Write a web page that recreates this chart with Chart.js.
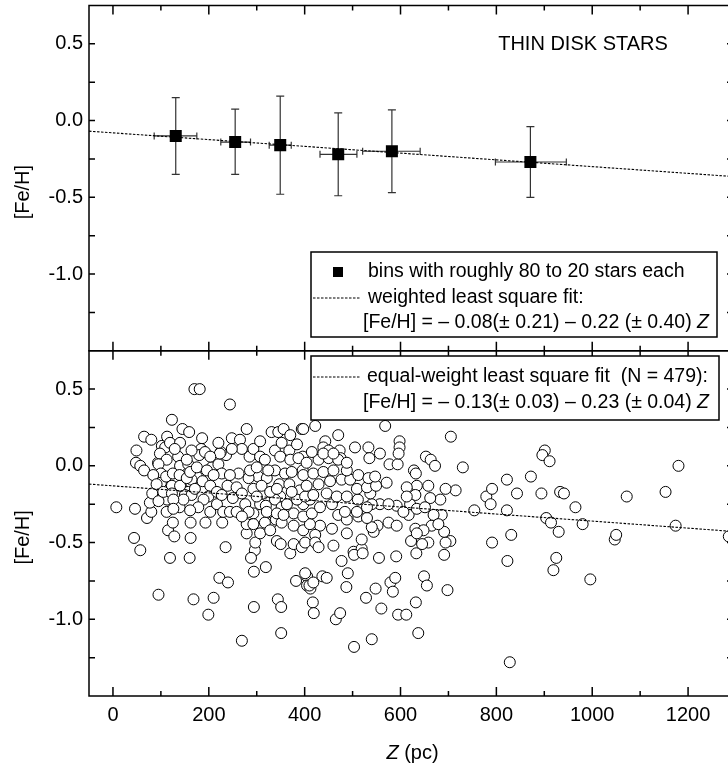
<!DOCTYPE html>
<html lang="en">
<head>
    <meta charset="UTF-8">
    <title>Thin disk stars - [Fe/H] vs Z</title>
    <script src="https://cdn.jsdelivr.net/npm/chart.js"></script>
    <style>
        html, body { margin: 0; padding: 0; background: #fff; overflow: hidden; }
        #grafico { display: block; }
    </style>
</head>
<body>
    <canvas id="grafico" width="740" height="767"></canvas>

    <script>
        // Axes
        const zRange = [-50, 1300];
        const fehRange = [-1.5, 0.75];
        const zTicks = [0, 200, 400, 600, 800, 1000, 1200];
        const zMinorTicks = [100, 300, 500, 700, 900, 1100];
        const fehTicks = [-1.0, -0.5, 0.0, 0.5];
        const fehMinorTicks = [-1.25, -0.75, -0.25, 0.25];

        // Top panel: bins with roughly 80 to 20 stars each
        const binZ = [131, 255, 349, 470, 582, 871];
        const binFeH = [-0.10, -0.14, -0.16, -0.22, -0.20, -0.27];
        const binZLow = [86, 225, 326, 432, 521, 798];
        const binZHigh = [175, 287, 372, 509, 641, 946];
        const binFeHLow = [-0.35, -0.35, -0.48, -0.49, -0.47, -0.50];
        const binFeHHigh = [0.15, 0.075, 0.16, 0.05, 0.07, -0.04];

        // Fit lines (end points at the frame edges)
        const fitZ = [-50, 1300];
        const weightedFit = [-0.069, -0.366];
        const equalFit = [-0.119, -0.429];

        // Bottom panel: individual stars
        const starZ = [
            7,46,44,57,48,49,57,65,65,80,
            71,80,77,82,95,115,125,128,119,123,
            94,102,109,145,159,160,162,162,168,170,
            181,186,184,180,199,210,193,222,240,235,
            244,228,269,279,294,294,319,296,288,344,
            351,351,370,377,382,405,405,412,417,419,
            437,446,465,474,477,487,490,503,528,540,
            548,560,555,579,584,589,591,595,612,632,
            637,649,655,633,691,698,704,694,691,705,
            730,715,694,754,779,788,791,791,822,822,
            831,823,828,843,872,894,901,896,911,904,
            914,930,925,919,933,941,965,980,996,1047,
            1050,1072,1153,1174,1180,1285,
            98,112,95,100,100,111,123,113,119,136,
            140,125,139,143,134,139,113,95,157,175,
            164,157,150,164,171,187,206,220,227,203,
            199,203,217,230,236,248,225,239,250,244,
            262,265,269,285,293,307,307,279,297,279,
            293,276,293,307,303,314,321,338,331,345,
            356,370,352,368,349,370,338,359,347,368,
            349,338,319,331,340,352,317,342,350,377,
            394,396,396,390,397,397,394,244,258,269,
            283,300,310,328,342,352,363,377,384,373,
            321,283,258,269,293,307,328,342,356,84,
            91,105,123,140,154,161,175,196,210,217,
            227,189,178,161,147,126,223,220,248,286,
            300,317,324,384,387,373,192,203,164,140,
            129,154,112,126,
            568,470,443,439,450,473,475,505,533,535,
            557,577,594,598,598,596,628,632,653,663,
            672,658,634,631,620,617,631,683,686,665,
            658,622,592,575,592,557,575,540,552,544,
            540,502,519,512,530,519,488,460,457,432,
            422,401,422,429,411,397,415,470,488,509,
            511,530,537,484,457,432,411,401,418,446,
            467,488,509,530,549,571,404,429,453,477,
            495,397,418,439,460,488,512,533,547,404,
            429,450,470,488,415,439,460,613,613,606,
            634,662,651,669,648,634,397,422,401,410,
            418,503,521,679,645
        ];
        const starFeH = [
            -0.27,-0.28,-0.47,-0.55,0.02,0.10,0.00,-0.03,0.19,0.17,
            -0.34,-0.30,-0.24,-0.18,-0.84,-0.42,-0.37,-0.46,-0.60,0.30,
            0.02,0.13,0.12,0.24,0.22,-0.60,-0.37,-0.47,-0.87,0.50,
            0.50,0.18,0.11,0.07,-0.97,-0.86,-0.37,-0.73,-0.76,-0.53,
            0.40,-0.37,-1.14,0.24,-0.69,-0.92,-0.66,-0.55,-0.60,-0.87,
            -0.92,-1.09,-0.57,-0.51,-0.75,-0.72,-0.78,-0.80,-0.89,-0.96,
            -0.72,-0.73,-1.00,-0.96,-0.62,-0.79,-0.70,-1.18,-0.86,-1.13,
            -0.80,-0.93,-0.60,-0.76,-0.82,-0.73,-0.59,-0.97,-0.97,-0.89,
            -1.09,-0.72,-0.78,-0.57,-0.58,-0.81,-0.49,-0.50,-0.43,0.19,
            -0.01,-0.16,-0.15,-0.29,-0.20,-0.25,-0.15,-0.50,-0.09,-0.29,
            -0.45,-0.62,-1.28,-0.18,-0.07,-0.18,0.10,0.07,0.03,-0.34,
            -0.37,-0.43,-0.60,-0.68,-0.17,-0.18,-0.27,-0.38,-0.74,-0.48,
            -0.45,-0.20,-0.17,-0.39,0.00,-0.46,
            0.08,0.04,0.01,-0.05,-0.11,-0.07,-0.13,0.19,0.15,0.06,
            0.00,-0.05,-0.06,-0.14,-0.19,-0.27,-0.22,-0.23,0.01,-0.07,
            -0.09,-0.17,-0.19,-0.19,-0.15,-0.10,-0.01,0.01,-0.05,-0.13,
            -0.20,-0.30,-0.25,-0.30,0.07,0.18,0.09,-0.13,-0.21,-0.30,
            -0.05,0.17,0.11,0.06,0.11,0.16,0.06,-0.44,-0.50,-0.38,
            -0.31,-0.25,-0.15,-0.25,-0.07,-0.18,-0.08,0.10,0.22,0.22,
            0.24,0.20,0.15,0.10,0.06,0.04,-0.03,-0.05,-0.12,-0.12,
            -0.20,-0.22,-0.26,-0.37,-0.35,-0.37,-0.37,-0.49,-0.51,-0.39,
            0.24,0.06,-0.03,-0.16,-0.25,-0.42,-0.53,-0.06,-0.14,-0.18,
            -0.08,-0.20,-0.13,-0.17,-0.15,-0.27,-0.25,-0.31,-0.22,-0.17,
            -0.30,-0.30,-0.30,-0.33,-0.38,-0.44,-0.42,-0.31,-0.32,-0.06,
            -0.12,-0.17,-0.18,-0.13,-0.08,-0.04,-0.01,-0.03,-0.06,-0.17,
            -0.19,-0.22,-0.27,-0.29,-0.22,-0.22,0.08,0.15,0.11,-0.03,
            -0.01,0.04,-0.03,0.14,0.05,-0.04,0.09,0.06,0.10,0.15,
            0.11,0.04,-0.30,-0.28,
            0.26,0.20,0.16,0.12,0.10,0.10,0.05,0.12,0.12,0.05,
            0.08,0.01,0.01,0.16,0.12,0.08,-0.03,-0.05,0.06,0.04,
            0.00,-0.13,-0.13,-0.19,-0.25,-0.32,-0.41,-0.22,-0.32,-0.39,
            -0.50,-0.49,-0.26,-0.37,-0.39,-0.25,-0.25,-0.25,-0.39,-0.43,
            -0.40,-0.56,-0.54,-0.33,-0.34,-0.48,-0.44,-0.52,-0.41,-0.39,
            -0.45,-0.50,-0.50,-0.53,-0.38,-0.33,-0.31,-0.32,-0.35,-0.30,
            -0.22,-0.27,-0.18,-0.30,-0.25,-0.27,-0.22,-0.20,-0.19,-0.18,
            -0.20,-0.20,-0.15,-0.14,-0.13,-0.11,-0.13,-0.12,-0.10,-0.09,
            -0.09,-0.06,-0.05,-0.04,-0.03,-0.03,-0.06,-0.08,-0.07,0.02,
            0.04,0.05,0.04,0.02,0.09,0.08,0.08,-0.14,-0.20,-0.30,
            -0.28,-0.21,-0.27,-0.32,-0.42,-0.44,0.24,0.26,-0.70,-0.78,
            -0.76,-0.58,-0.57,-0.38,-0.51
        ];

        const FONTE = '"Liberation Sans", Arial, sans-serif';

        // texto com partes em itálico: [[texto, italico], ...]
        function textoMisto(ctx, partes, x, y, tamanho, alinhar) {
            let largura = 0;
            partes.forEach(p => {
                ctx.font = (p[1] ? 'italic ' : '') + tamanho + 'px ' + FONTE;
                largura += ctx.measureText(p[0]).width;
            });
            let cx = alinhar === 'center' ? x - largura / 2 : x;
            ctx.textAlign = 'left';
            partes.forEach(p => {
                ctx.font = (p[1] ? 'italic ' : '') + tamanho + 'px ' + FONTE;
                ctx.fillText(p[0], cx, y);
                cx += ctx.measureText(p[0]).width;
            });
        }

        const moldura = {
            id: 'moldura',
            beforeDatasetsDraw(chart) {
                // barras de erro dos bins
                const ctx = chart.ctx, x = chart.scales.x, y = chart.scales.yTop;
                ctx.save();
                ctx.strokeStyle = '#333';
                ctx.lineWidth = 1.2;
                binZ.forEach((z, i) => {
                    const px = x.getPixelForValue(z), py = y.getPixelForValue(binFeH[i]);
                    const y1 = y.getPixelForValue(binFeHHigh[i]), y2 = y.getPixelForValue(binFeHLow[i]);
                    const x1 = x.getPixelForValue(binZLow[i]), x2 = x.getPixelForValue(binZHigh[i]);
                    ctx.beginPath();
                    ctx.moveTo(px, y1); ctx.lineTo(px, y2);
                    ctx.moveTo(px - 4, y1); ctx.lineTo(px + 4, y1);
                    ctx.moveTo(px - 4, y2); ctx.lineTo(px + 4, y2);
                    ctx.moveTo(x1, py); ctx.lineTo(x2, py);
                    ctx.moveTo(x1, py - 3.5); ctx.lineTo(x1, py + 3.5);
                    ctx.moveTo(x2, py - 3.5); ctx.lineTo(x2, py + 3.5);
                    ctx.stroke();
                });
                ctx.restore();
            },
            afterDatasetsDraw(chart) {
                const ctx = chart.ctx, x = chart.scales.x;
                const esq = chart.chartArea.left, dir = chart.chartArea.right;
                ctx.save();
                ctx.strokeStyle = '#000';
                ctx.fillStyle = '#000';

                ['yTop', 'yBottom'].forEach(id => {
                    const y = chart.scales[id];
                    ctx.lineWidth = 1.5;
                    ctx.strokeRect(esq, y.top, dir - esq, y.bottom - y.top);
                    ctx.beginPath();
                    zTicks.forEach(v => {
                        const p = x.getPixelForValue(v);
                        ctx.moveTo(p, y.top); ctx.lineTo(p, y.top + 9);
                        ctx.moveTo(p, y.bottom); ctx.lineTo(p, y.bottom - 9);
                    });
                    zMinorTicks.forEach(v => {
                        const p = x.getPixelForValue(v);
                        ctx.moveTo(p, y.top); ctx.lineTo(p, y.top + 5);
                        ctx.moveTo(p, y.bottom); ctx.lineTo(p, y.bottom - 5);
                    });
                    fehTicks.concat(fehMinorTicks).forEach(v => {
                        const p = y.getPixelForValue(v);
                        ctx.moveTo(esq, p); ctx.lineTo(esq + 6, p);
                        ctx.moveTo(dir, p); ctx.lineTo(dir - 9, p);
                    });
                    ctx.stroke();

                    ctx.font = '20px ' + FONTE;
                    ctx.textAlign = 'right';
                    ctx.textBaseline = 'middle';
                    fehTicks.forEach(v => ctx.fillText(v.toFixed(1), esq - 6, y.getPixelForValue(v)));

                    ctx.save();
                    ctx.translate(23, (y.top + y.bottom) / 2 + 14);
                    ctx.rotate(-Math.PI / 2);
                    ctx.textAlign = 'center';
                    ctx.fillText('[Fe/H]', 0, 0);
                    ctx.restore();
                });

                // eixo x
                const base = chart.scales.yBottom.bottom;
                ctx.font = '20px ' + FONTE;
                ctx.textAlign = 'center';
                ctx.textBaseline = 'middle';
                zTicks.forEach(v => ctx.fillText(String(v), x.getPixelForValue(v), base + 19));
                textoMisto(ctx, [['Z', true], [' (pc)', false]], (esq + dir) / 2, base + 57, 20, 'center');

                // título do painel
                ctx.font = '20px ' + FONTE;
                ctx.textAlign = 'center';
                ctx.fillText('THIN DISK STARS', 583, 44);

                // legenda superior
                ctx.fillStyle = '#fff';
                ctx.fillRect(311, 252, 406, 85);
                ctx.lineWidth = 1.5;
                ctx.strokeRect(311, 252, 406, 85);
                ctx.fillStyle = '#000';
                ctx.fillRect(333, 267, 10, 10);
                ctx.lineWidth = 1.1;
                ctx.setLineDash([2.5, 1.5]);
                ctx.beginPath();
                ctx.moveTo(313, 298); ctx.lineTo(360, 298);
                ctx.stroke();
                ctx.setLineDash([]);
                textoMisto(ctx, [['bins with roughly 80 to 20 stars each', false]], 368, 272, 19.5);
                textoMisto(ctx, [['weighted least square fit:', false]], 368, 298, 19.5);
                textoMisto(ctx, [['[Fe/H] = \u2013 0.08(\u00b1 0.21) \u2013 0.22 (\u00b1 0.40) ', false], ['Z', true]], 363, 323, 19.5);

                // legenda inferior
                ctx.fillStyle = '#fff';
                ctx.fillRect(311, 356, 408, 64);
                ctx.lineWidth = 1.5;
                ctx.strokeRect(311, 356, 408, 64);
                ctx.fillStyle = '#000';
                ctx.lineWidth = 1.1;
                ctx.setLineDash([2.5, 1.5]);
                ctx.beginPath();
                ctx.moveTo(313, 377); ctx.lineTo(360, 377);
                ctx.stroke();
                ctx.setLineDash([]);
                textoMisto(ctx, [['equal-weight least square fit  (N = 479):', false]], 367, 377, 19.5);
                textoMisto(ctx, [['[Fe/H] = \u2013 0.13(\u00b1 0.03) \u2013 0.23 (\u00b1 0.04) ', false], ['Z', true]], 363, 403, 19.5);

                ctx.restore();
            }
        };

        const eixoY = {
            type: 'linear',
            position: 'left',
            stack: 'feh',
            stackWeight: 1,
            min: fehRange[0],
            max: fehRange[1],
            ticks: { display: false },
            grid: { display: false },
            border: { display: false },
            afterFit: s => { s.width = 89; }
        };

        new Chart(document.getElementById('grafico'), {
            type: 'scatter',
            data: {
                datasets: [
                    {
                        label: 'bins',
                        data: binZ.map((z, i) => ({ x: z, y: binFeH[i] })),
                        yAxisID: 'yTop',
                        pointStyle: 'rect',
                        pointRadius: 8.5,
                        backgroundColor: '#000',
                        borderColor: '#000',
                        borderWidth: 0
                    },
                    {
                        label: 'weighted fit',
                        data: fitZ.map((z, i) => ({ x: z, y: weightedFit[i] })),
                        yAxisID: 'yTop',
                        showLine: true,
                        pointRadius: 0,
                        borderColor: '#000',
                        borderWidth: 1.1,
                        borderDash: [2.5, 1.5]
                    },
                    {
                        label: 'equal-weight fit',
                        data: fitZ.map((z, i) => ({ x: z, y: equalFit[i] })),
                        yAxisID: 'yBottom',
                        showLine: true,
                        pointRadius: 0,
                        borderColor: '#000',
                        borderWidth: 1.1,
                        borderDash: [2.5, 1.5]
                    },
                    {
                        label: 'stars',
                        data: starZ.map((z, i) => ({ x: z, y: starFeH[i] })),
                        yAxisID: 'yBottom',
                        pointStyle: 'circle',
                        pointRadius: 5.5,
                        backgroundColor: '#fff',
                        borderColor: '#000',
                        borderWidth: 1
                    }
                ]
            },
            options: {
                responsive: false,
                animation: false,
                events: [],
                layout: { autoPadding: false, padding: { top: 5.5, right: 4, left: 0, bottom: 0 } },
                plugins: { legend: { display: false }, tooltip: { enabled: false } },
                scales: {
                    x: {
                        type: 'linear',
                        min: zRange[0],
                        max: zRange[1],
                        ticks: { display: false },
                        grid: { display: false },
                        border: { display: false },
                        afterFit: s => { s.height = 71; }
                    },
                    // in a stack the first scale is placed at the bottom
                    yBottom: Object.assign({}, eixoY),
                    yTop: Object.assign({}, eixoY)
                }
            },
            plugins: [moldura]
        });
    </script>
</body>
</html>
